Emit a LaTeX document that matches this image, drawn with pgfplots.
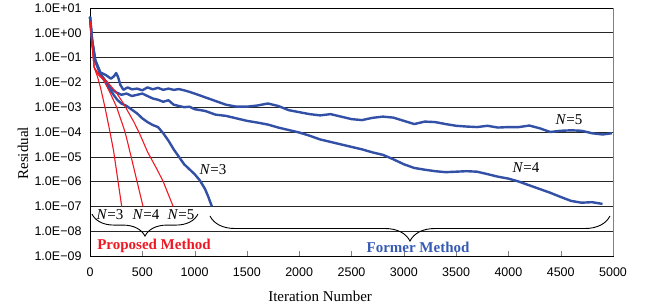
\documentclass[border=0pt]{standalone}
\usepackage{fontspec}
\setmainfont{Liberation Serif}
\newfontfamily\arial{Liberation Sans}
\usepackage{pgfplots}
\pgfplotsset{compat=1.18}
\usetikzlibrary{decorations.pathreplacing}
\definecolor{bl}{RGB}{50,80,165}
\definecolor{rd}{RGB}{240,25,35}
\definecolor{fb}{RGB}{55,90,180}
\begin{document}
\begin{tikzpicture}
\begin{axis}[name=ax, scale only axis, width=523pt, height=248pt,
  xmin=0, xmax=5000, ymode=log, ymin=1e-9, ymax=1e1,
  xtick={0,500,1000,1500,2000,2500,3000,3500,4000,4500,5000},
  xticklabels={0,500,1000,1500,2000,2500,3000,3500,4000,4500,5000},
  ytick={1e-9,1e-8,1e-7,1e-6,1e-5,1e-4,1e-3,1e-2,1e-1,1e0,1e1},
  yticklabels={1.0E−09,1.0E−08,1.0E−07,1.0E−06,1.0E−05,1.0E−04,1.0E−03,1.0E−02,1.0E−01,1.0E+00,1.0E+01},
  ymajorgrids, grid style={black!85, line width=0.6pt},
  yminorgrids=false, yminorticks=false,
  axis line style={black, line width=0.8pt},
  tick label style={font=\arial\fontsize{12.5}{14}\selectfont},
  xticklabel style={yshift=-8pt},
  yticklabel style={xshift=-5pt},
  xtick pos=bottom, ytick pos=left,
  tick align=inside, major tick length=5pt,
  ytick style={draw=none},
  clip=false,
]
% Blue N=5
\addplot[bl, line width=2.4pt, line join=round] coordinates {
(0,4.47)(20,0.5)(50,7.94e-2)(100,2.51e-2)(150,2.0e-2)(200,1.41e-2)(230,1.78e-2)(250,2.4e-2)(270,1.58e-2)(290,7.94e-3)(320,5.01e-3)(360,6.31e-3)(400,5.25e-3)(450,5.62e-3)(500,4.79e-3)(550,6.31e-3)(600,5.25e-3)(650,6.03e-3)(700,5.01e-3)(750,5.62e-3)(800,5.01e-3)(850,5.37e-3)(900,4.79e-3)(950,4.17e-3)(1000,3.55e-3)(1100,2.51e-3)(1200,1.78e-3)(1300,1.26e-3)(1400,1.05e-3)(1500,1.05e-3)(1600,1.17e-3)(1700,1.41e-3)(1800,1.12e-3)(1900,7.59e-4)(2000,6.31e-4)(2100,5.25e-4)(2200,4.68e-4)(2300,5.25e-4)(2400,4.17e-4)(2500,3.31e-4)(2600,3.02e-4)(2700,3.72e-4)(2800,4.17e-4)(2900,3.80e-4)(3000,2.82e-4)(3100,2.09e-4)(3200,2.63e-4)(3300,2.51e-4)(3400,2.09e-4)(3500,1.78e-4)(3600,1.66e-4)(3700,1.58e-4)(3800,1.78e-4)(3900,1.51e-4)(4000,1.58e-4)(4100,1.58e-4)(4200,1.82e-4)(4300,1.41e-4)(4400,1.0e-4)(4500,1.12e-4)(4600,1.17e-4)(4700,1.12e-4)(4800,8.91e-5)(4900,7.94e-5)(4990,8.91e-5)
};
% Blue N=4
\addplot[bl, line width=2.4pt, line join=round] coordinates {
(0,4.47)(20,0.5)(50,7.08e-2)(100,2.24e-2)(150,1.12e-2)(200,5.62e-3)(250,3.98e-3)(300,3.16e-3)(350,3.55e-3)(400,2.82e-3)(450,3.16e-3)(500,3.55e-3)(550,2.82e-3)(600,2.24e-3)(650,2.0e-3)(700,1.66e-3)(750,1.91e-3)(800,1.26e-3)(850,1.12e-3)(900,1.0e-3)(950,1.05e-3)(1000,8.32e-4)(1100,7.08e-4)(1200,5.01e-4)(1300,4.47e-4)(1400,3.55e-4)(1500,2.82e-4)(1600,2.40e-4)(1700,2.0e-4)(1800,1.51e-4)(1900,1.20e-4)(2000,9.55e-5)(2100,7.08e-5)(2200,5.01e-5)(2300,3.98e-5)(2400,3.16e-5)(2500,2.51e-5)(2600,2.0e-5)(2700,1.51e-5)(2800,1.20e-5)(2900,7.94e-6)(3000,5.01e-6)(3100,3.55e-6)(3200,3.02e-6)(3300,2.63e-6)(3400,2.40e-6)(3500,2.51e-6)(3600,2.63e-6)(3700,2.51e-6)(3800,2.0e-6)(3900,1.58e-6)(4000,1.32e-6)(4100,1.0e-6)(4200,7.08e-7)(4300,5.01e-7)(4400,3.55e-7)(4500,2.40e-7)(4600,1.66e-7)(4700,1.41e-7)(4800,1.48e-7)(4900,1.26e-7)
};
% Blue N=3
\addplot[bl, line width=2.4pt, line join=round] coordinates {
(0,4.47)(20,0.5)(50,7.94e-2)(100,2.0e-2)(150,1.0e-2)(200,4.47e-3)(260,2.0e-3)(300,1.41e-3)(350,1.12e-3)(400,7.94e-4)(450,5.62e-4)(500,3.55e-4)(550,2.51e-4)(600,1.91e-4)(650,1.58e-4)(700,8.91e-5)(750,4.47e-5)(800,2.0e-5)(850,1.0e-5)(900,5.01e-6)(950,3.16e-6)(1000,2.0e-6)(1050,1.12e-6)(1100,5.01e-7)(1130,2.51e-7)(1165,1.0e-7)
};
% Red N=3
\addplot[rd, line width=1.1pt] coordinates {
(5,2.82)(20,0.316)(40,3.98e-2)(70,1.78e-2)(100,6.31e-3)(143,1.0e-3)(191,1.0e-4)(225,1.78e-5)(265,1.26e-6)(303,1.0e-7)
};
% Red N=4
\addplot[rd, line width=1.1pt] coordinates {
(5,2.82)(20,0.316)(40,3.98e-2)(80,2.0e-2)(130,1.26e-2)(190,3.98e-3)(255,1.0e-3)(335,1.0e-4)(382,1.58e-5)(450,1.0e-6)(507,1.0e-7)
};
% Red N=5
\addplot[rd, line width=1.1pt] coordinates {
(5,2.82)(20,0.316)(40,3.98e-2)(100,1.78e-2)(160,1.12e-2)(250,3.98e-3)(320,1.41e-3)(420,2.51e-4)(478,7.94e-5)(550,1.58e-5)(640,3.16e-6)(700,1.0e-6)(795,1.0e-7)
};
\draw[gray, line width=1pt] (rel axis cs:1,0) -- (rel axis cs:1,1);
% braces
\draw[decorate, decoration={brace, mirror, amplitude=22pt}, line width=0.9pt] (axis cs:19,4.9e-8) -- (axis cs:1032,4.9e-8);
\draw[decorate, decoration={brace, mirror, amplitude=25pt}, line width=0.9pt] (axis cs:1147,4.1e-8) -- (axis cs:4971,4.1e-8);
% labels
\node[font=\fontsize{15}{16}\selectfont] at (axis cs:191,4.5e-8) {\textit{N}=3};
\node[font=\fontsize{15}{16}\selectfont] at (axis cs:535,4.5e-8) {\textit{N}=4};
\node[font=\fontsize{15}{16}\selectfont] at (axis cs:870,4.5e-8) {\textit{N}=5};
\node[font=\fontsize{15}{16}\selectfont] at (axis cs:1176,3.1e-6) {\textit{N}=3};
\node[font=\fontsize{15}{16}\selectfont] at (axis cs:4168,3.6e-6) {\textit{N}=4};
\node[font=\fontsize{15}{16}\selectfont] at (axis cs:4580,3.16e-4) {\textit{N}=5};
\node[font=\bfseries\fontsize{15}{16}\selectfont, text=rd] at (axis cs:612,2.5e-9) {Proposed Method};
\node[font=\bfseries\fontsize{15}{16}\selectfont, text=fb] at (axis cs:3136,2.3e-9) {Former Method};
\node[font=\fontsize{15}{16}\selectfont, rotate=90] at ([xshift=-67pt]axis cs:0,1.38e-5) {Residual};
\node[font=\fontsize{15}{16}\selectfont] at ([yshift=-40pt]axis cs:2200,1e-9) {Iteration Number};
\path (rel axis cs:0,0) ++(-90pt,-48pt) coordinate (bbA);
\path (rel axis cs:1,1) ++(35pt,8pt) coordinate (bbB);
\path (bbA) rectangle (bbB);
\end{axis}
\end{tikzpicture}
\end{document}
